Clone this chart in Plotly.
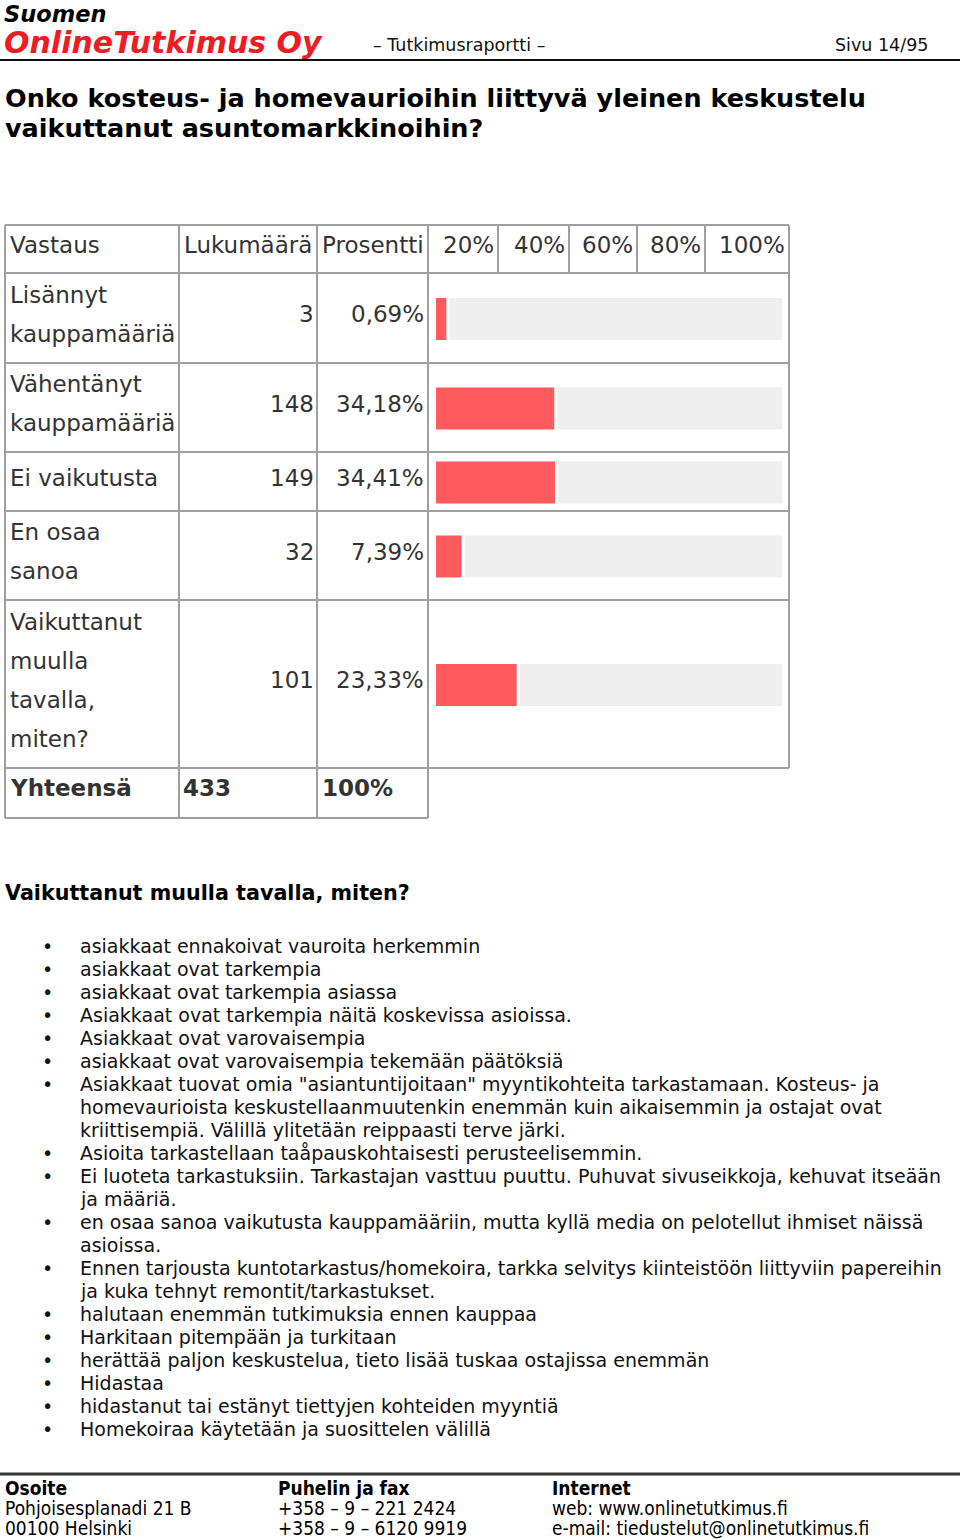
import plotly.graph_objects as go

# --- data ---
answers = [
    ["Lisännyt", "kauppamääriä"],
    ["Vähentänyt", "kauppamääriä"],
    ["Ei vaikutusta"],
    ["En osaa", "sanoa"],
    ["Vaikuttanut", "muulla", "tavalla,", "miten?"],
]
counts = [3, 148, 149, 32, 101]
percents = [0.69, 34.18, 34.41, 7.39, 23.33]
total_count = 433
header_cols = ["Vastaus", "Lukumäärä", "Prosentti"]
scale_ticks = ["20%", "40%", "60%", "80%", "100%"]

comments = [
    ["asiakkaat ennakoivat vauroita herkemmin"],
    ["asiakkaat ovat tarkempia"],
    ["asiakkaat ovat tarkempia asiassa"],
    ["Asiakkaat ovat tarkempia näitä koskevissa asioissa."],
    ["Asiakkaat ovat varovaisempia"],
    ["asiakkaat ovat varovaisempia tekemään päätöksiä"],
    ["Asiakkaat tuovat omia \"asiantuntijoitaan\" myyntikohteita tarkastamaan. Kosteus- ja",
     "homevaurioista keskustellaanmuutenkin enemmän kuin aikaisemmin ja ostajat ovat",
     "kriittisempiä. Välillä ylitetään reippaasti terve järki."],
    ["Asioita tarkastellaan taåpauskohtaisesti perusteelisemmin."],
    ["Ei luoteta tarkastuksiin. Tarkastajan vasttuu puuttu. Puhuvat sivuseikkoja, kehuvat itseään",
     "ja määriä."],
    ["en osaa sanoa vaikutusta kauppamääriin, mutta kyllä media on pelotellut ihmiset näissä",
     "asioissa."],
    ["Ennen tarjousta kuntotarkastus/homekoira, tarkka selvitys kiinteistöön liittyviin papereihin",
     "ja kuka tehnyt remontit/tarkastukset."],
    ["halutaan enemmän tutkimuksia ennen kauppaa"],
    ["Harkitaan pitempään ja turkitaan"],
    ["herättää paljon keskustelua, tieto lisää tuskaa ostajissa enemmän"],
    ["Hidastaa"],
    ["hidastanut tai estänyt tiettyjen kohteiden myyntiä"],
    ["Homekoiraa käytetään ja suosittelen välillä"],
]

footer = [
    ["Osoite", "Pohjoisesplanadi 21 B", "00100 Helsinki"],
    ["Puhelin ja fax", "+358 – 9 – 221 2424", "+358 – 9 – 6120 9919"],
    ["Internet", "web: www.onlinetutkimus.fi", "e-mail: tiedustelut@onlinetutkimus.fi"],
]

# --- layout (pixels) ---
W, H = 960, 1540
FONT = "Verdana, DejaVu Sans"
FOOT_FONT = "Tahoma, DejaVu Sans Condensed, Liberation Sans"
RED = "#ff5b5e"
GRID = "#a0a0a0"
row_y = [225, 273, 363, 452, 511, 600, 768, 818]
col_x = [5, 179, 317, 428, 789]
tick_x = [428, 498, 569, 637, 705, 789]

fig = go.Figure()

# bars (percent axis spans the bar column)
shown = [max(p, 3) for p in percents]  # very small values get a minimum visible width
centers = [(row_y[i + 1] + row_y[i + 2]) / 2 + 1 for i in range(len(percents))]
gap = 0.9
fig.add_trace(go.Bar(
    orientation='h', x=[100 - s - gap for s in shown], base=[s + gap for s in shown],
    y=centers, width=42, xaxis='x2', yaxis='y',
    marker=dict(color='#eeeeee', line=dict(width=0)), hoverinfo='skip', showlegend=False
))
fig.add_trace(go.Bar(
    orientation='h', x=shown, y=centers, width=42, xaxis='x2', yaxis='y',
    marker=dict(color=RED, line=dict(width=0)), hoverinfo='skip', showlegend=False
))

shapes = []
def line(x0, y0, x1, y1, color=GRID, width=2):
    shapes.append(dict(type='line', xref='x', yref='y', x0=x0, y0=y0, x1=x1, y1=y1,
                       line=dict(color=color, width=width)))

# table grid
for y in row_y[:-1]:
    line(col_x[0], y, col_x[-1], y)
line(col_x[0], row_y[-1], col_x[3], row_y[-1])
for x in col_x[:4]:
    line(x, row_y[0], x, row_y[-1])
line(col_x[-1], row_y[0], col_x[-1], row_y[-2])
for x in tick_x[1:-1]:
    line(x, row_y[0], x, row_y[1])

# header / footer rules
line(0, 60, W, 60, color='#111111', width=2)
line(0, 1474, W, 1474, color='#333333', width=3)

ann = []
def text(x, y, s, size=23, color='#333333', anchor='left', bold=False, family=FONT):
    if bold:
        s = "<b>" + s + "</b>"
    ann.append(dict(x=x, y=y, xref='x', yref='y', text=s, showarrow=False,
                    xanchor=anchor, yanchor='middle',
                    font=dict(family=family, size=size, color=color)))

# page header
text(2, 14, "<i>Suomen</i>", size=22.5, color='#000000', bold=True)
text(2, 42, "<i>OnlineTutkimus Oy</i>", size=30, color='#ee1c24', bold=True)
text(371, 45, "– Tutkimusraportti –", size=17.5, color='#111111')
text(930, 45, "Sivu 14/95", size=17.5, color='#111111', anchor='right')

# question title
text(3, 98, "Onko kosteus- ja homevaurioihin liittyvä yleinen keskustelu", size=25.5,
     color='#000000', bold=True)
text(3, 128, "vaikuttanut asuntomarkkinoihin?", size=25.5, color='#000000', bold=True)

# table header row
hy = (row_y[0] + row_y[1]) / 2 - 4
for x, h in zip(col_x[:3], header_cols):
    text(x + 3, hy, h)
for x, t in zip(tick_x[1:], scale_ticks):
    text(x - 2, hy, t, anchor='right')

# table body
for i, lines in enumerate(answers):
    top, bot = row_y[i + 1], row_y[i + 2]
    mid = (top + bot) / 2
    n = len(lines)
    for j, ln in enumerate(lines):
        text(col_x[0] + 3, mid + (j - (n - 1) / 2) * 39 - 4, ln)
    text(col_x[2] - 1, mid - 4, str(counts[i]), anchor='right')
    text(col_x[3] - 2, mid - 4, f"{percents[i]:.2f}".replace('.', ',') + "%", anchor='right')

ty = (row_y[-2] + row_y[-1]) / 2 - 5
text(col_x[0] + 3, ty, "Yhteensä", bold=True)
text(col_x[1] + 2, ty, str(total_count), bold=True)
text(col_x[2] + 3, ty, "100%", bold=True)

# open answers
text(3, 893, "Vaikuttanut muulla tavalla, miten?", size=20.7, color='#000000', bold=True)
k = 0
for item in comments:
    text(47, 946 + 23 * k, "•", size=19, color='#111111', anchor='center')
    for ln in item:
        text(78, 946 + 23 * k, ln, size=19, color='#111111')
        k += 1

# footer columns
for x, col in zip([5, 278, 552], footer):
    for j, s in enumerate(col):
        text(x - 2, 1488 + 20 * j, s, size=19, color='#000000', bold=(j == 0), family=FOOT_FONT)

fig.update_layout(
    width=W, height=H,
    margin=dict(l=0, r=0, t=0, b=0),
    plot_bgcolor='white', paper_bgcolor='white',
    barmode='overlay',
    xaxis=dict(range=[0, W], visible=False, domain=[0, 1]),
    yaxis=dict(range=[H, 0], visible=False, domain=[0, 1]),
    xaxis2=dict(range=[0, 100], domain=[436 / W, 782 / W], anchor='y', visible=False),
    shapes=shapes,
    annotations=ann,
    showlegend=False,
)

# page is a full-bleed document: drop the browser's default body margin
fig.write_html("out.html", config={'displayModeBar': False},
               post_script="document.body.style.margin='0';")
